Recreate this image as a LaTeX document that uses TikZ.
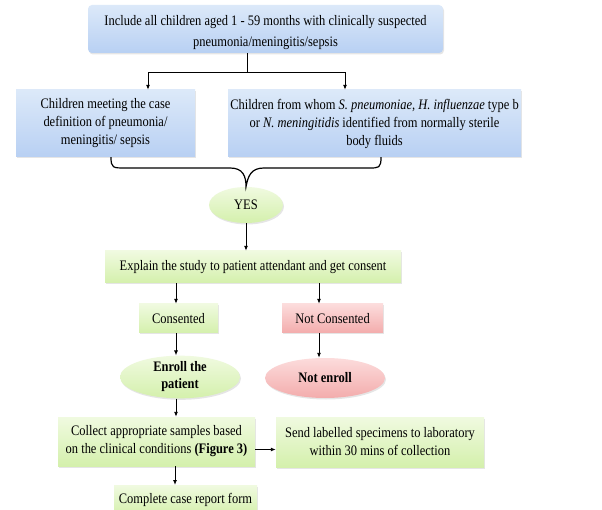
\documentclass[tikz,border=0pt]{standalone}
\usepackage{fontspec}
\setmainfont{Liberation Serif}[FakeStretch=0.86]
\usetikzlibrary{arrows.meta,shapes.geometric,shadows}

\definecolor{bluetop}{RGB}{220,233,249}
\definecolor{bluebot}{RGB}{184,208,243}
\definecolor{greentop}{RGB}{240,250,224}
\definecolor{greenbot}{RGB}{212,240,172}
\definecolor{redtop}{RGB}{252,220,220}
\definecolor{redbot}{RGB}{243,172,172}

\tikzset{
  box/.style={rectangle, align=center, inner sep=1pt,
    drop shadow={opacity=0.2, shadow xshift=1pt, shadow yshift=-1.5pt}},
  bluebox/.style={box, top color=bluetop, bottom color=bluebot},
  greenbox/.style={box, top color=greentop, bottom color=greenbot},
  redbox/.style={box, top color=redtop, bottom color=redbot},
  greenoval/.style={greenbox, ellipse, inner sep=0pt},
  redoval/.style={redbox, ellipse, inner sep=0pt},
  arr/.style={line width=0.9pt, -{Latex[length=5pt,width=4pt]}},
}

\begin{document}
\begin{tikzpicture}[x=1pt, y=-1pt, font=\fontsize{14.5}{18}\selectfont]
		%%%%% START %%%%%
		\clip (0, 0) rectangle (602, 510);
		\fill[white] (0, 0) rectangle (602, 510);

		\node[bluebox, rounded corners=4pt, minimum width=355, minimum height=48, font=\fontsize{14.5}{21}\selectfont] (incl) at (265.5, 29)
			{\rule{0pt}{17pt}Include all children aged 1 - 59 months with clinically suspected\\ pneumonia/meningitis/sepsis};

		\node[bluebox, minimum width=179, minimum height=67] (casedef) at (105.5, 123.5)
			{Children meeting the case\\ definition of pneumonia/\\ meningitis/ sepsis};
		\node[bluebox, minimum width=293, minimum height=67] (isolate) at (374.5, 123.5)
			{Children from whom \textit{S. pneumoniae, H. influenzae} type b\\ or \textit{N. meningitidis} identified from normally sterile\\ body fluids};

		\coordinate (split) at (247, 72);
		\draw[line width=0.9pt] ([xshift=-18.5]incl.south) -- (split);
		\draw[arr] (split) -| ([xshift=42.5]casedef.north);
		\draw[arr] (split) -| ([xshift=-29.5]isolate.north);

		\node[greenoval, minimum width=74, minimum height=36] (yes) at (246, 205) {YES};

		% brace joining both groups
		\draw[line width=1.2pt] ([xshift=5.5]casedef.south) .. controls (111, 168) and (113, 168) .. (125, 168)
			-- (230, 168) .. controls (243, 168) and (246, 176) .. (yes.north)
			.. controls (248, 176) and (251, 168) .. (264, 168)
			-- (369, 168) .. controls (379, 168) and (381, 168) .. ([xshift=6.5]isolate.south);

		\node[greenbox, minimum width=296, minimum height=32] (explain) at (253, 267)
			{Explain the study to patient attendant and get consent};
		\draw[arr] (yes.south) -- (explain.north -| yes.south);

		\node[greenbox, minimum width=79, minimum height=29] (cons) at (178.5, 318.5) {Consented};
		\node[redbox, minimum width=101, minimum height=29] (ncons) at (332.5, 318.5) {Not Consented};
		\draw[arr] (explain.south -| 176, 0) -- (cons.north -| 176, 0);
		\draw[arr] (explain.south -| 319, 0) -- (ncons.north -| 319, 0);

		\node[greenoval, minimum width=120, minimum height=37, font=\fontsize{14.5}{17}\selectfont\bfseries] (enroll) at (180, 377)
			{Enroll the\\ patient};
		\node[redoval, minimum width=120, minimum height=40, font=\fontsize{14.5}{17}\selectfont\bfseries] (nenroll) at (325, 378)
			{Not enroll};
		\draw[arr] (cons.south -| 176, 0) -- (enroll.north -| 176, 0);
		\draw[arr] (ncons.south -| 319, 0) -- (nenroll.north -| 319, 0);

		\node[greenbox, minimum width=197, minimum height=49] (collect) at (156.5, 441.5)
			{Collect appropriate samples based\\ on the clinical conditions \textbf{(Figure 3)}};
		\node[greenbox, minimum width=208, minimum height=50] (send) at (380, 442)
			{Send labelled specimens to laboratory\\ within 30 mins of collection};
		\draw[arr] (enroll.south -| 176, 0) -- (collect.north -| 176, 0);
		\draw[arr] ([yshift=-8]collect.east) -- ([yshift=-8]collect.east -| send.west);

		\node[greenbox, minimum width=143, minimum height=30, anchor=north] (crf) at (185.5, 485)
			{Complete case report form\strut};
		\draw[arr] (collect.south -| 175, 0) -- (crf.north -| 175, 0);
		%%%%% END %%%%%
	\end{tikzpicture}
\end{document}
